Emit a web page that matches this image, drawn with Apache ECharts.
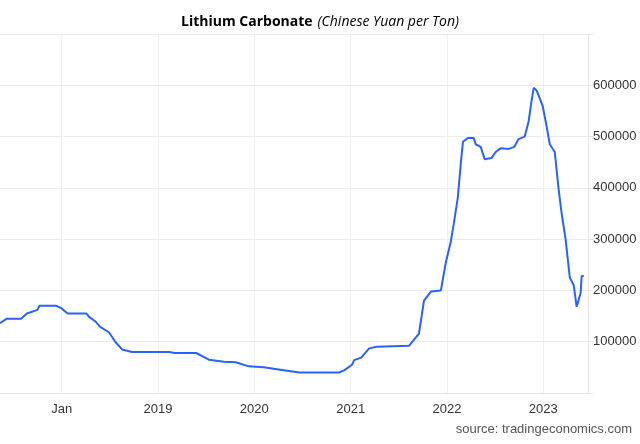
<!DOCTYPE html><html><head><meta charset="utf-8">
<script src="https://cdn.jsdelivr.net/npm/echarts@6/dist/echarts.min.js"></script>
<style>html,body{margin:0;padding:0;background:#fff}#c{width:640px;height:444px}</style></head><body><div id="c"></div>
<script>
const dates=["2017-05-12","2017-06-07","2017-07-31","2017-08-22","2017-10-01","2017-10-08","2017-12-12","2018-01-01","2018-01-23","2018-04-05","2018-04-16","2018-05-08","2018-05-27","2018-06-30","2018-07-23","2018-08-18","2018-09-25","2019-02-14","2019-03-04","2019-05-26","2019-07-13","2019-09-09","2019-10-23","2019-12-11","2020-02-06","2020-04-03","2020-06-20","2020-11-18","2020-12-07","2021-01-06","2021-01-14","2021-02-10","2021-03-12","2021-04-10","2021-08-10","2021-09-17","2021-10-06","2021-11-02","2021-12-09","2021-12-28","2022-01-16","2022-01-27","2022-02-11","2022-02-23","2022-03-03","2022-03-21","2022-04-13","2022-04-20","2022-05-09","2022-05-24","2022-06-19","2022-07-05","2022-07-23","2022-08-23","2022-09-14","2022-09-29","2022-10-23","2022-11-07","2022-11-18","2022-11-26","2022-12-07","2022-12-15","2022-12-30","2023-01-14","2023-01-26","2023-02-14","2023-02-28","2023-03-12","2023-03-27","2023-04-12","2023-04-27","2023-05-08","2023-05-23","2023-05-27","2023-06-04"];
const prices=[136000,145000,145000,155000,162000,170000,170000,165000,155000,155000,148000,140000,129000,118000,100000,85000,80000,80000,78000,78000,65000,61000,60000,52000,50000,46000,40000,40000,44000,55000,64000,69000,87000,90000,92000,116000,180000,198000,200000,255000,296000,330000,380000,450000,490000,497000,497000,485000,480000,456000,458000,470000,477000,476000,480000,495000,500000,530000,570000,595000,590000,580000,560000,520000,485000,470000,400000,350000,300000,225000,210000,168000,195000,228000,228000];
const yearTicks=["2018-01-01","2019-01-01","2020-01-01","2021-01-01","2022-01-01","2023-01-01"];
const tickNames=["Jan","2019","2020","2021","2022","2023"];
const yTicks=[100000,200000,300000,400000,500000,600000];
const ts=yearTicks.map(d=>Date.parse(d));
const ch=echarts.init(document.getElementById('c'));
ch.setOption({
 animation:false,
 title:{text:'{b|Lithium Carbonate} {i|(Chinese Yuan per Ton)}',left:'center',top:8,
  textStyle:{fontWeight:'normal',rich:{b:{fontWeight:'bold',fontSize:14,fontFamily:'Open Sans',color:'#000'},i:{fontStyle:'italic',fontWeight:'normal',fontSize:14,fontFamily:'Open Sans',color:'#000'}}}},
 graphic:[{type:'text',right:8,bottom:8,style:{text:'source: tradingeconomics.com',fill:'#555',font:'13px Liberation Sans'}}],
 grid:{left:0,right:52,top:34,bottom:51},
 xAxis:{type:'value',min:Date.parse('2017-05-12'),max:Date.parse('2023-06-20'),
  axisLine:{lineStyle:{color:'#e6e6e6'}},axisTick:{show:false,customValues:ts},
  axisLabel:{customValues:ts,color:'#333',fontSize:13,fontFamily:'Liberation Sans',margin:10,
   formatter:v=>{const i=ts.indexOf(v);return i>=0?tickNames[i]:'';}},
  splitLine:{show:true,lineStyle:{color:'#eef0f3'}}},
 yAxis:{type:'value',position:'right',min:0,max:700000,interval:100000,
  axisLine:{show:true,lineStyle:{color:'#e6e6e6'}},
  axisLabel:{color:'#333',fontSize:13,fontFamily:'Liberation Sans',margin:5,
   formatter:v=>yTicks.includes(v)?String(v):''},
  splitLine:{lineStyle:{color:'#ececec'}}},
 series:[{type:'line',data:dates.map((d,i)=>[Date.parse(d),prices[i]]),showSymbol:false,
  lineStyle:{color:'#2962ff',width:2}}]
});
</script></body></html>
